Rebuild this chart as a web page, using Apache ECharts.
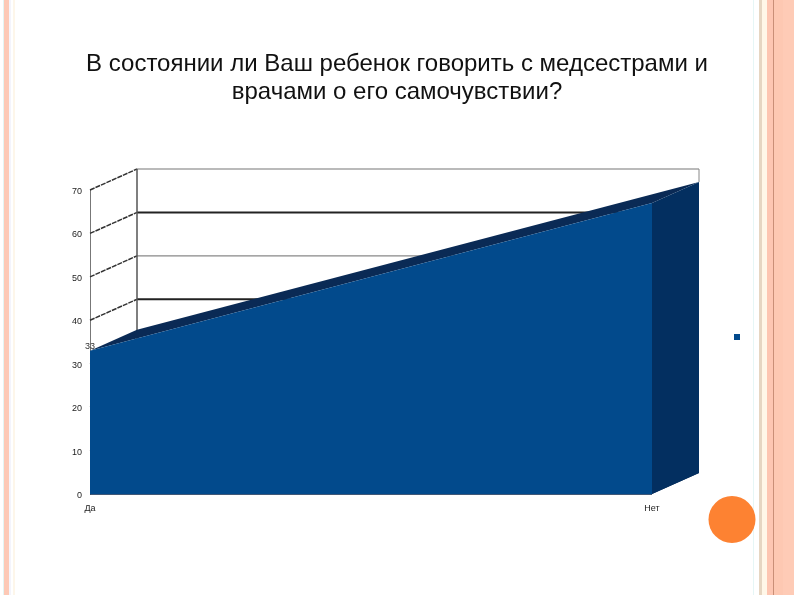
<!DOCTYPE html>
<html><head><meta charset="utf-8">
<style>html,body{margin:0;padding:0;background:#fff}#c{width:794px;height:595px}</style>
<script src="https://cdn.jsdelivr.net/npm/echarts@6/dist/echarts.min.js"></script>
</head><body><div id="c"></div>
<script>
const titleText = 'В состоянии ли Ваш ребенок говорить с медсестрами и\nврачами о его самочувствии?';
const categories = ['Да', 'Нет'];
const values = [33, 67];
const seriesName = 'Ряд1';
const yTicks = [10, 20, 30, 40, 50, 60, 70];
const gridTones = ['#555', '#555', '#555', '#222', '#888', '#222', '#777'];
const DEPTH = [47, -21];

const stripes = [
  [3,1,'#e4f5f3'],[4,5,'#fdc9b6'],[9,2,'#f4f4fb'],[13,2,'#fdf6ea'],
  [753,1,'#e6f6f6'],[759,3,'#e6d6c2'],[762,5,'#fff7e8'],[767,6,'#fdc6b2'],
  [773,1,'#c98f77'],[774,9,'#fdc8b2'],[783,11,'#fecbb6']
];
const chart = echarts.init(document.getElementById('c'), null, {renderer:'canvas'});
const shift = p => [p[0] + DEPTH[0], p[1] + DEPTH[1]];
const poly = (points, fill, z2) => ({type:'polygon', z2, shape:{points}, style:{fill}});

function renderWall(params, api) {
  const v = api.value(0), a = api.coord([0, v]), b = shift(a), c = shift(api.coord([1, v]));
  const tone = gridTones[params.dataIndex];
  return {type:'group', children:[
    {type:'line', shape:{x1:a[0],y1:a[1],x2:b[0],y2:b[1]}, style:{stroke:'#333',lineWidth:1.5,lineDash:[5,1]}},
    {type:'line', shape:{x1:b[0],y1:b[1],x2:c[0],y2:c[1]}, style:{stroke:tone,lineWidth:v===40||v===60?2:1.2}}
  ]};
}
function renderBox(params, api) {
  const l = api.coord([0, values[0]]), r = api.coord([1, values[1]]);
  const bl = api.coord([0, 0]), br = api.coord([1, 0]);
  return {type:'group', children:[
    poly([bl, br, shift(br), shift(bl)], '#02204a', 1),
    poly([l, r, shift(r), shift(l)], '#0a2a55', 2),
    poly([r, shift(r), shift(br), br], '#032f60', 3),
    {type:'line', z2:4, shape:{x1:bl[0],y1:bl[1],x2:br[0],y2:br[1]}, style:{stroke:'#02204a',lineWidth:1.5}}
  ]};
}
function renderFrame(params, api) {
  const top = api.coord([0, 70]), base = api.coord([0, 0]);
  const tr = shift(api.coord([1, 70])), tb = shift(top), bb = shift(base);
  const rb = shift(api.coord([1, values[1]]));
  return {type:'group', children:[
    {type:'line', shape:{x1:tb[0],y1:tb[1],x2:bb[0],y2:bb[1]}, style:{stroke:'#555',lineWidth:1.5}},
    {type:'line', shape:{x1:tr[0],y1:tr[1],x2:rb[0],y2:rb[1]}, style:{stroke:'#888',lineWidth:1}}
  ]};
}

chart.setOption({
  animation:false,
  backgroundColor:'#fff',
  title:{text:titleText, left:392, top:45, textAlign:'center',
    textStyle:{fontFamily:'Liberation Sans',fontSize:24,fontWeight:'normal',color:'#111',lineHeight:28}},
  legend:{left:729, top:329, itemWidth:6, itemHeight:6, itemGap:0, icon:'rect',
    data:[seriesName], formatter:()=>'', textStyle:{fontSize:1,padding:0}},
  grid:{left:90, right:142, top:190, height:304},
  xAxis:{type:'category', data:categories, boundaryGap:false,
    axisLine:{show:false}, axisTick:{show:false},
    axisLabel:{fontFamily:'Liberation Sans',fontSize:9,color:'#222',margin:10,hideOverlap:false,showMaxLabel:true,showMinLabel:true}},
  yAxis:{type:'value', min:0, max:70, interval:10,
    axisLine:{show:true,lineStyle:{color:'#777',width:1}}, axisTick:{show:false}, splitLine:{show:false},
    axisLabel:{fontFamily:'Liberation Sans',fontSize:9,color:'#222',margin:8,verticalAlign:'top',padding:[-3,0,0,0]}},
  graphic:[
    ...stripes.map(s=>({type:'rect',silent:true,z:0,shape:{x:s[0],y:0,width:s[1],height:595},style:{fill:s[2]}})),
    {type:'circle',silent:true,z:50,shape:{cx:732,cy:519.5,r:23.5},style:{fill:'#fd8232'}}
  ],
  series:[
    {type:'custom', name:'wall', z:1, renderItem:renderWall, data:yTicks.map(v=>[v]), encode:{y:0}, silent:true},
    {type:'custom', name:'frame', z:1, renderItem:renderFrame, data:[[0]], silent:true},
    {type:'custom', name:'box', z:2, renderItem:renderBox, data:[[0]], silent:true},
    {type:'line', name:seriesName, z:3, data:values, symbol:'circle', symbolSize:0, showSymbol:true, color:'#024a8c',
      lineStyle:{width:0}, areaStyle:{color:'#024a8c',opacity:1},
      label:{show:true,position:'top',distance:0,fontFamily:'Liberation Sans',fontSize:9,color:'#333',
        formatter:p=>p.dataIndex===0?String(p.value):''}}
  ]
});
</script></body></html>
